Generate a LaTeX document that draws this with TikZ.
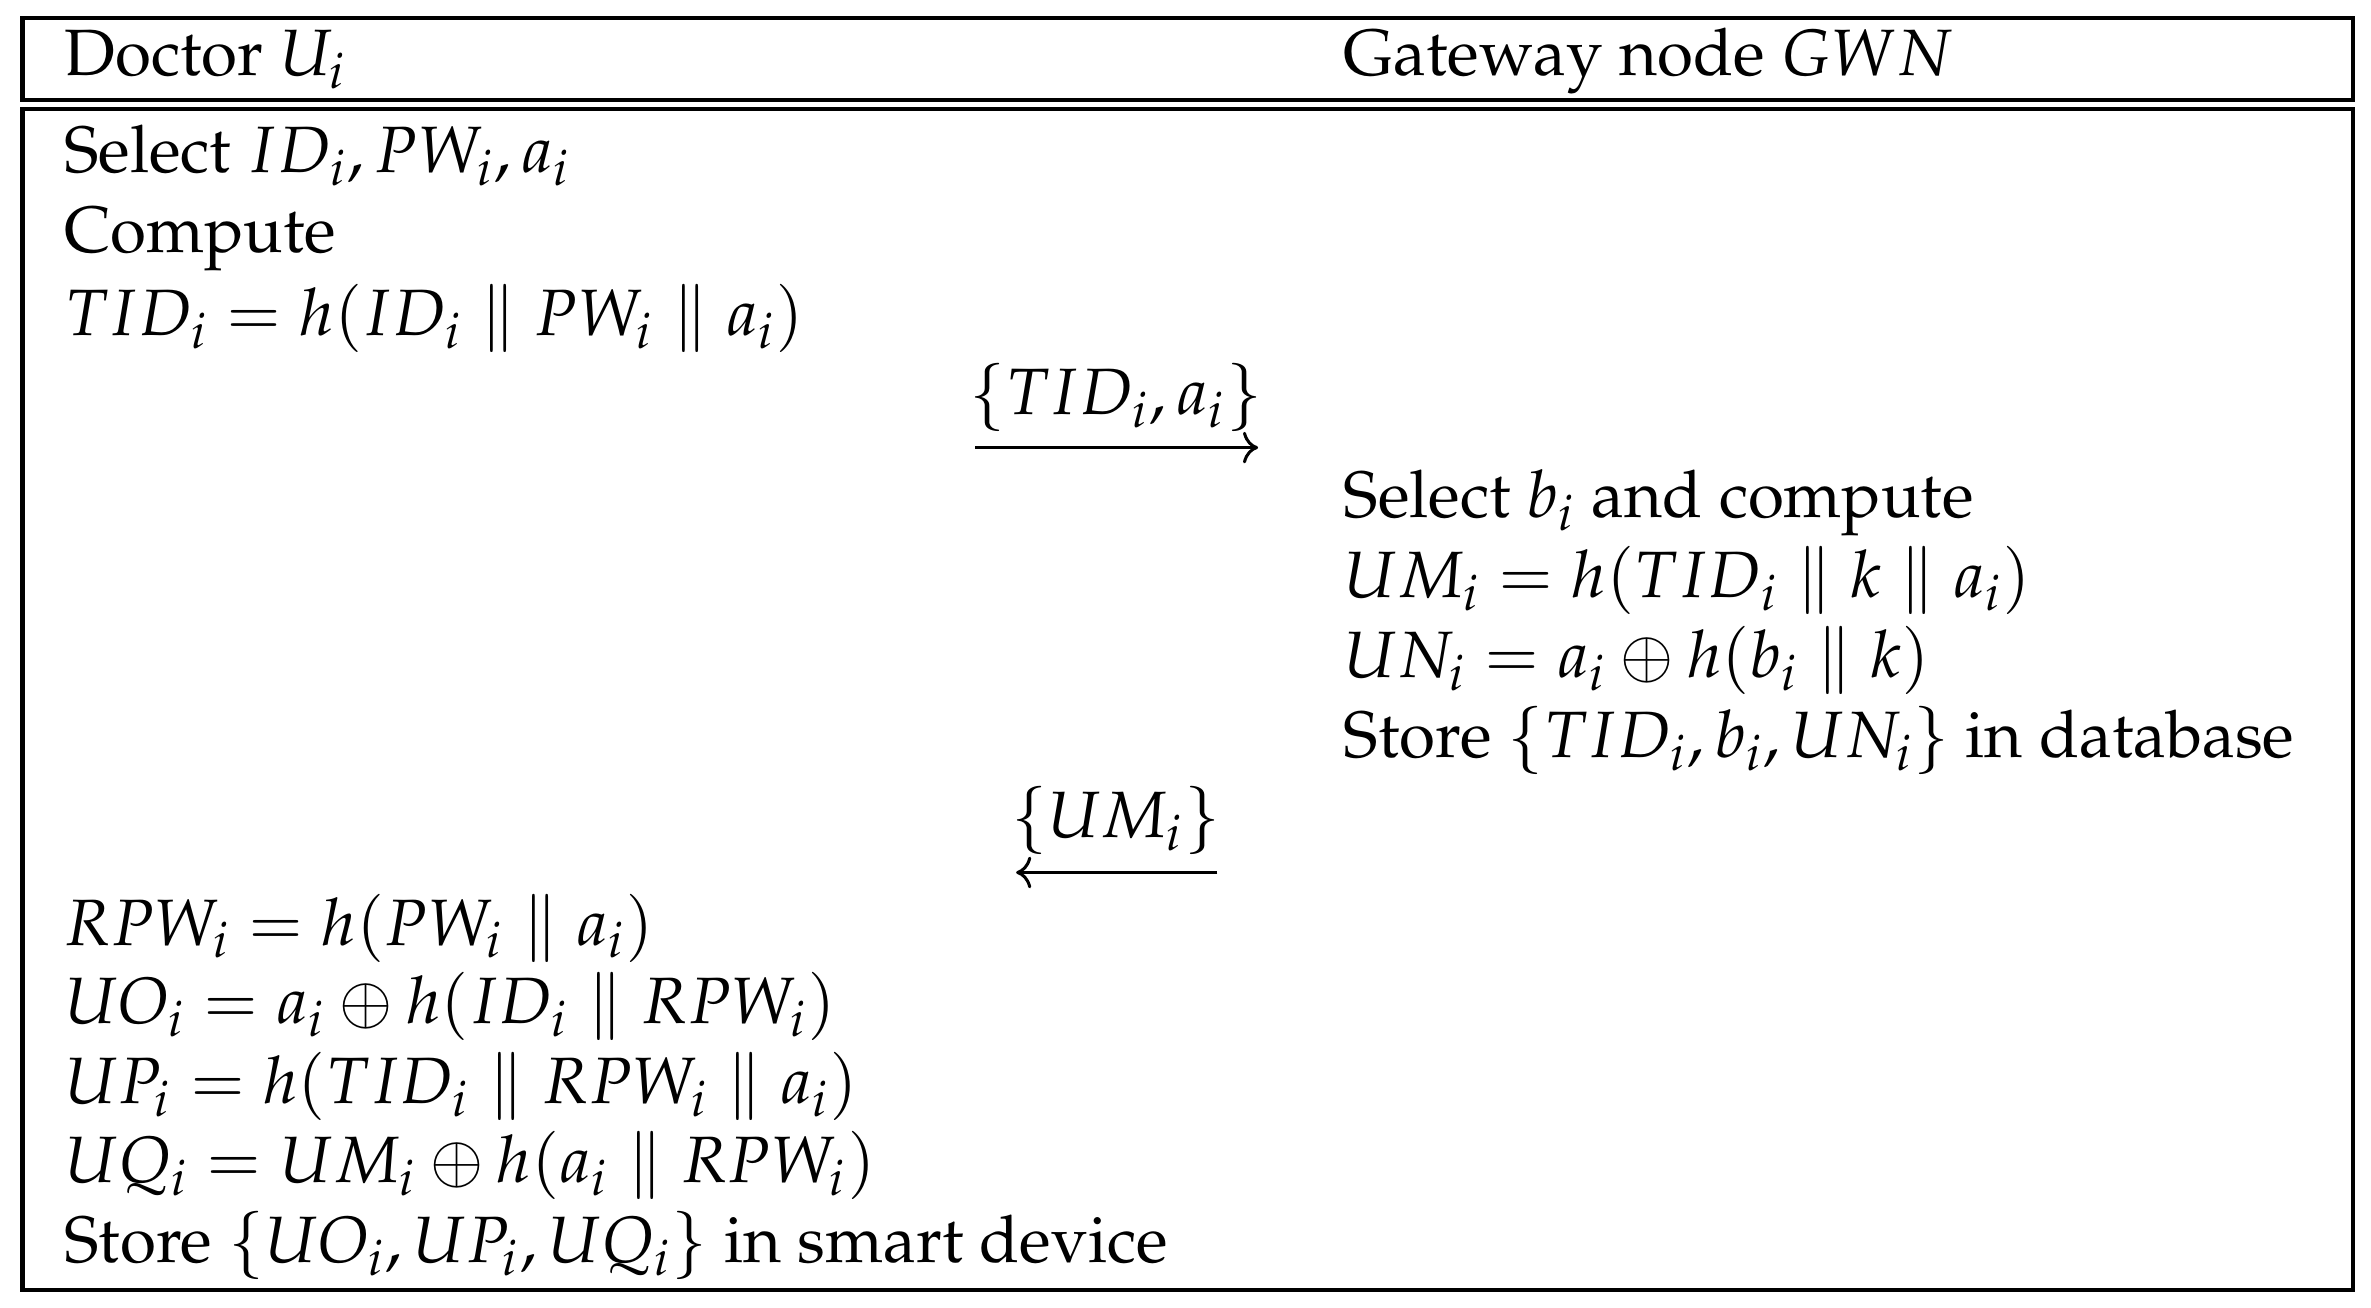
\documentclass[tikz,border=0pt]{standalone}
\usepackage[T1]{fontenc}
\usepackage{mathpazo}
\usetikzlibrary{arrows.meta}
\begin{document}
\begin{tikzpicture}[x=0.3pt,y=-0.3pt,
  box/.style={draw,line width=0.9pt},
  t/.style={anchor=base west,inner sep=0pt,font=\fontsize{13}{15.6}\selectfont},
  c/.style={anchor=base,inner sep=0pt,font=\fontsize{13}{15.6}\selectfont},
  msg/.style={line width=0.6pt,-{To[length=3pt]}}]
\useasboundingbox (0,0) rectangle (1568,865);
\draw[box] (15,12) rectangle (1556,66);
\draw[box] (15,72) rectangle (1556,853);
\node[t] (h1) at (42,50) {Doctor $U_i$};
\node[t] (h2) at (888,50) {Gateway node $GWN$};
\node[t] (a1) at (42,114) {Select $ID_i, PW_i, a_i$};
\node[t] (a2) at (42,167) {Compute};
\node[t] (a3) at (42,222) {$TID_i = h(ID_i \parallel PW_i \parallel a_i)$};
\node[c] (m1) at (738,274) {$\{TID_i, a_i\}$};
\coordinate (m1s) at (645,296); \coordinate (m1e) at (832,296);
\draw[msg] (m1s) -- (m1e);
\node[t] (b1) at (888,342) {Select $b_i$ and compute};
\node[t] (b2) at (888,395) {$UM_i = h(TID_i \parallel k \parallel a_i)$};
\node[t] (b3) at (888,448) {$UN_i = a_i \oplus h(b_i \parallel k)$};
\node[t] (b4) at (888,501) {Store $\{TID_i, b_i, UN_i\}$ in database};
\node[c] (m2) at (738,554) {$\{UM_i\}$};
\coordinate (m2s) at (805,577); \coordinate (m2e) at (672,577);
\draw[msg] (m2s) -- (m2e);
\node[t] (c1) at (42,625) {$RPW_i = h(PW_i \parallel a_i)$};
\node[t] (c2) at (42,677) {$UO_i = a_i \oplus h(ID_i \parallel RPW_i)$};
\node[t] (c3) at (42,730) {$UP_i = h(TID_i \parallel RPW_i \parallel a_i)$};
\node[t] (c4) at (42,782) {$UQ_i = UM_i \oplus h(a_i \parallel RPW_i)$};
\node[t] (c5) at (42,835) {Store $\{UO_i, UP_i, UQ_i\}$ in smart device};
\end{tikzpicture}
\end{document}
